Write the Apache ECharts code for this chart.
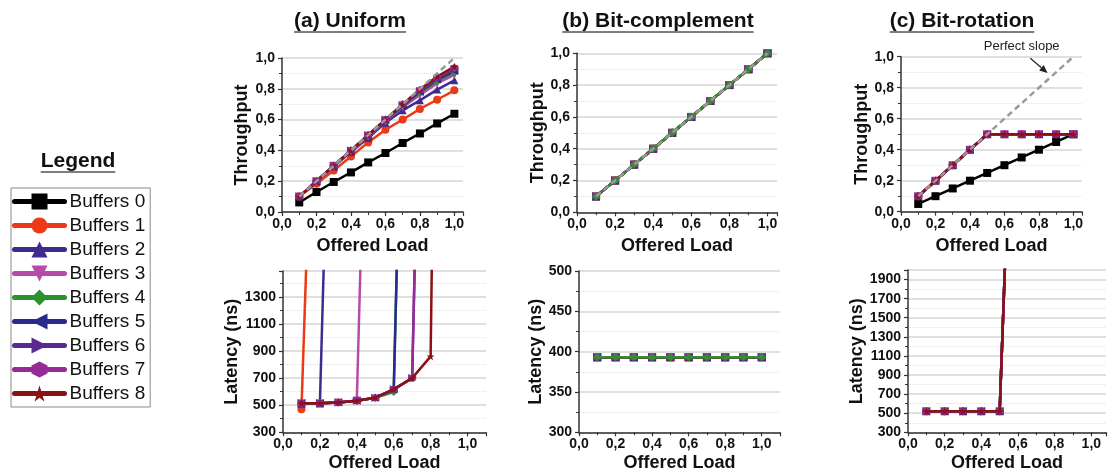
<!DOCTYPE html>
<html><head><meta charset="utf-8">
<script src="https://cdn.jsdelivr.net/npm/echarts@6/dist/echarts.min.js"></script>
<style>html,body{margin:0;padding:0;background:#fff}#c{width:1108px;height:474px}</style>
</head><body><div id="c"></div>
<script>
// ---------- DATA ----------
const loads = [0.1, 0.2, 0.3, 0.4, 0.5, 0.6, 0.7, 0.8, 0.9, 1.0];
const bufferNames = ['Buffers 0','Buffers 1','Buffers 2','Buffers 3','Buffers 4','Buffers 5','Buffers 6','Buffers 7','Buffers 8'];
const perfectSlope = [[0.1, 0.1], [1.0, 1.0]];
const panelTitles = ['(a) Uniform', '(b) Bit-complement', '(c) Bit-rotation'];

// (a) Uniform – throughput
const uniformThr0 = [0.062, 0.13, 0.195, 0.257, 0.322, 0.383, 0.448, 0.51, 0.575, 0.638];
const uniformThr1 = [0.10, 0.184, 0.27, 0.361, 0.452, 0.534, 0.60, 0.669, 0.729, 0.79];
const uniformThr2 = [0.10, 0.20, 0.295, 0.39, 0.48, 0.58, 0.66, 0.725, 0.795, 0.855];
const uniformThr3 = [0.10, 0.20, 0.30, 0.395, 0.49, 0.59, 0.68, 0.76, 0.835, 0.89];
const uniformThr4 = [0.10, 0.20, 0.30, 0.40, 0.495, 0.595, 0.69, 0.775, 0.85, 0.905];
const uniformThr5 = [0.10, 0.20, 0.30, 0.40, 0.495, 0.595, 0.69, 0.78, 0.86, 0.915];
const uniformThr6 = [0.10, 0.20, 0.30, 0.40, 0.50, 0.60, 0.695, 0.785, 0.865, 0.925];
const uniformThr7 = [0.10, 0.20, 0.30, 0.40, 0.50, 0.60, 0.70, 0.79, 0.875, 0.935];
const uniformThr8 = [0.10, 0.20, 0.30, 0.40, 0.50, 0.60, 0.70, 0.795, 0.88, 0.945];

// (a) Uniform – latency (ns); values past saturation run off the chart
const uniformLat0 = [];
const uniformLat1 = [470, 4550];
const uniformLat2 = [510, 512, 5400];
const uniformLat3 = [515, 515, 520, 535, 5560];
const uniformLat4 = [515, 515, 520, 532, 555, 597, 6070];
const uniformLat5 = [515, 515, 520, 532, 555, 617, 6070];
const uniformLat6 = [515, 515, 520, 532, 555, 617, 700, 6780];
const uniformLat7 = [515, 515, 520, 532, 555, 617, 700, 6780];
const uniformLat8 = [515, 515, 520, 532, 555, 617, 700, 860, 11360];

// (b) Bit-complement
const complementThr = [0.1, 0.2, 0.3, 0.4, 0.5, 0.6, 0.7, 0.8, 0.9, 1.0];
const complementLat = [393, 393, 393, 393, 393, 393, 393, 393, 393, 393];

// (c) Bit-rotation
const rotationThr0 = [0.05, 0.10, 0.15, 0.20, 0.25, 0.30, 0.35, 0.40, 0.45, 0.50];
const rotationThrN = [0.10, 0.20, 0.30, 0.40, 0.50, 0.50, 0.50, 0.50, 0.50, 0.50];
const rotationLatN = [520, 520, 520, 520, 520, 5800];

// ---------- STYLE ----------
const FONT = '"Liberation Sans", Arial, Helvetica, sans-serif';
const hexagon = 'path://M0,-1L0.866,-0.5L0.866,0.5L0,1L-0.866,0.5L-0.866,-0.5Z';
const star = 'path://M0,-1L0.2245,-0.309L0.951,-0.309L0.363,0.118L0.588,0.809L0,0.382L-0.588,0.809L-0.363,0.118L-0.951,-0.309L-0.2245,-0.309Z';
const looks = [
  {color: '#000000', symbol: 'rect', rot: 0},
  {color: '#EA3A16', symbol: 'circle', rot: 0},
  {color: '#3F2A8F', symbol: 'triangle', rot: 0},
  {color: '#B84AA8', symbol: 'triangle', rot: 180},
  {color: '#2E9130', symbol: 'diamond', rot: 0},
  {color: '#2A2A8E', symbol: 'triangle', rot: 90},
  {color: '#5A2A92', symbol: 'triangle', rot: -90},
  {color: '#962A96', symbol: hexagon, rot: 0},
  {color: '#8B1212', symbol: star, rot: 0}
];

function pairs(values) {
  const out = [];
  values.forEach((v, k) => { if (v != null) out.push([loads[k], v]); });
  return out;
}
function mkSeries(i, gi, values, z) {
  const lk = looks[i];
  return {
    type: 'line', name: bufferNames[i], xAxisIndex: gi, yAxisIndex: gi,
    data: pairs(values), symbol: lk.symbol, symbolRotate: lk.rot, symbolSize: 8,
    showAllSymbol: true, clip: true, z: z || 2,
    lineStyle: {color: lk.color, width: 2.5},
    itemStyle: {color: lk.color},
    emphasis: {disabled: true}
  };
}
function mkPerfect(gi) {
  return {
    type: 'line', name: 'Perfect slope', xAxisIndex: gi, yAxisIndex: gi,
    data: perfectSlope, symbol: 'none', z: 5,
    lineStyle: {color: '#9a9a9a', width: 2.5, type: [6, 4]}, emphasis: {disabled: true}
  };
}

const commaFmt = v => (Math.abs(v * 5 - Math.round(v * 5)) < 1e-6 ? v.toFixed(1).replace('.', ',') : '');
function xAxis(gi, max, gap) {
  return {
    type: 'value', gridIndex: gi, min: 0, max: max, interval: 0.2,
    name: 'Offered Load', nameLocation: 'middle', nameGap: gap,
    nameTextStyle: {fontWeight: 'bold', fontSize: 18, color: '#111', fontFamily: FONT},
    axisLine: {show: true, onZero: false, lineStyle: {color: '#333', width: 1.5}},
    axisTick: {show: true, length: 4, lineStyle: {color: '#333', width: 1.2}},
    minorTick: {show: true, splitNumber: 2, length: 3, lineStyle: {color: '#333', width: 1}},
    axisLabel: {formatter: commaFmt, fontWeight: 'bold', fontSize: 14, color: '#111', margin: 5, fontFamily: FONT, hideOverlap: false},
    splitLine: {show: false}, minorSplitLine: {show: false}
  };
}
function yAxis(gi, name, min, max, interval, gap, fmt) {
  return {
    type: 'value', gridIndex: gi, min: min, max: max, interval: interval,
    name: name, nameLocation: 'middle', nameGap: gap, nameRotate: 90,
    nameTextStyle: {fontWeight: 'bold', fontSize: 18, color: '#111', fontFamily: FONT},
    axisLine: {show: true, onZero: false, lineStyle: {color: '#333', width: 1.5}},
    axisTick: {show: true, length: 4, lineStyle: {color: '#333', width: 1.2}},
    minorTick: {show: true, splitNumber: 2, length: 3, lineStyle: {color: '#333', width: 1}},
    axisLabel: {formatter: fmt, fontWeight: 'bold', fontSize: 14, color: '#111', margin: 7, fontFamily: FONT, hideOverlap: false},
    splitLine: {show: true, lineStyle: {color: '#d4d4d4', width: 1.5}},
    minorSplitLine: {show: true, lineStyle: {color: '#e2e2e2', width: 1, type: 'dotted'}}
  };
}
const thrFmt = commaFmt;
const latFmt = v => ((v - 300) % 200 === 0 ? String(v) : '');
const lat50Fmt = v => String(v);

const grids = [
  {left: 282, top: 58, width: 181, height: 154},
  {left: 283, top: 271, width: 203, height: 161.3},
  {left: 577, top: 53.3, width: 200, height: 159},
  {left: 579, top: 271, width: 201, height: 161.3},
  {left: 901, top: 56.7, width: 181, height: 155},
  {left: 908, top: 270, width: 198, height: 162.3}
].map(g => Object.assign({containLabel: false, outerBoundsMode: 'none', show: false}, g));

const uniThr = [uniformThr0, uniformThr1, uniformThr2, uniformThr3, uniformThr4, uniformThr5, uniformThr6, uniformThr7, uniformThr8];
const uniLat = [uniformLat0, uniformLat1, uniformLat2, uniformLat3, uniformLat4, uniformLat5, uniformLat6, uniformLat7, uniformLat8];

const series = [];
// (a)
uniThr.forEach((v, i) => series.push(mkSeries(i, 0, v)));
series.push(mkPerfect(0));
uniLat.forEach((v, i) => { if (v.length) series.push(mkSeries(i, 1, v, i === 8 ? 3 : 2)); });
// (b): green drawn on top
[0,1,2,3,5,6,7,8,4].forEach(i => series.push(mkSeries(i, 2, complementThr, i === 4 ? 3 : 2)));
series.push(mkPerfect(2));
[0,1,2,3,5,6,7,8,4].forEach(i => series.push(mkSeries(i, 3, complementLat, i === 4 ? 3 : 2)));
// (c): dark red drawn on top
series.push(mkSeries(0, 4, rotationThr0));
for (let i = 1; i <= 8; i++) series.push(mkSeries(i, 4, rotationThrN, i === 8 ? 3 : 2));
series.push(mkPerfect(4));
for (let i = 1; i <= 8; i++) series.push(mkSeries(i, 5, rotationLatN, i === 8 ? 3 : 2));

const chart = echarts.init(document.getElementById('c'), null, {renderer: 'canvas'});
chart.setOption({
  animation: false,
  backgroundColor: '#ffffff',
  textStyle: {fontFamily: FONT},
  grid: grids,
  xAxis: [xAxis(0, 1.05, 25), xAxis(1, 1.1, 22), xAxis(2, 1.05, 25), xAxis(3, 1.1, 22), xAxis(4, 1.05, 25), xAxis(5, 1.08, 22)],
  yAxis: [
    yAxis(0, 'Throughput', 0, 1, 0.2, 31, thrFmt),
    yAxis(1, 'Latency (ns)', 300, 1490, 200, 39, latFmt),
    yAxis(2, 'Throughput', 0, 1, 0.2, 30, thrFmt),
    yAxis(3, 'Latency (ns)', 300, 500, 50, 32, lat50Fmt),
    yAxis(4, 'Throughput', 0, 1, 0.2, 29, thrFmt),
    yAxis(5, 'Latency (ns)', 300, 2000, 200, 41, latFmt)
  ],
  legend: {
    data: bufferNames, orient: 'vertical', left: 11, top: 188,
    padding: [4, 5, 4, 1], itemGap: 5, itemWidth: 50, itemHeight: 20,
    borderColor: '#8a8a8a', borderWidth: 1, selectedMode: false,
    textStyle: {fontSize: 19, color: '#111', fontFamily: FONT},
    lineStyle: {width: 5, cap: 'round'}
  },
  series: series
});

// ---------- annotations: titles with underline, "Perfect slope" arrow ----------
const mctx = document.createElement('canvas').getContext('2d');
function textWidth(t, font) { mctx.font = font; return mctx.measureText(t).width; }
const gfx = [];
function underlinedTitle(text, cx, cy, size, uy) {
  const font = 'bold ' + size + 'px ' + FONT;
  const w = textWidth(text, font);
  gfx.push({type: 'text', x: cx, y: cy, style: {text: text, font: font, fill: '#111', align: 'center', verticalAlign: 'middle', textAlign: 'center', textVerticalAlign: 'middle'}});
  gfx.push({type: 'line', shape: {x1: cx - w / 2, y1: uy, x2: cx + w / 2, y2: uy}, style: {stroke: '#555', lineWidth: 1.5}});
}
underlinedTitle(panelTitles[0], 350, 21, 21, 32);
underlinedTitle(panelTitles[1], 658, 21, 21, 32);
underlinedTitle(panelTitles[2], 962, 21, 21, 32);
underlinedTitle('Legend', 78, 161, 21, 172);

const pText = chart.convertToPixel({gridIndex: 4}, [0.70, 1.065]);
const pA = chart.convertToPixel({gridIndex: 4}, [0.75, 0.99]);
const pB = chart.convertToPixel({gridIndex: 4}, [0.85, 0.895]);
gfx.push({type: 'text', x: pText[0], y: pText[1], style: {text: 'Perfect slope', font: '13px ' + FONT, fill: '#222', align: 'center', verticalAlign: 'middle', textAlign: 'center', textVerticalAlign: 'middle'}});
const ang = Math.atan2(pB[1] - pA[1], pB[0] - pA[0]);
const hl = 8, hw = 3.5;
const bx = pB[0] - hl * Math.cos(ang), by = pB[1] - hl * Math.sin(ang);
gfx.push({type: 'line', shape: {x1: pA[0], y1: pA[1], x2: bx, y2: by}, style: {stroke: '#222', lineWidth: 1.2}});
gfx.push({type: 'polygon', shape: {points: [
  [pB[0], pB[1]],
  [bx + hw * Math.sin(ang), by - hw * Math.cos(ang)],
  [bx - hw * Math.sin(ang), by + hw * Math.cos(ang)]
]}, style: {fill: '#222'}});

chart.setOption({graphic: gfx});
</script>
</body></html>
